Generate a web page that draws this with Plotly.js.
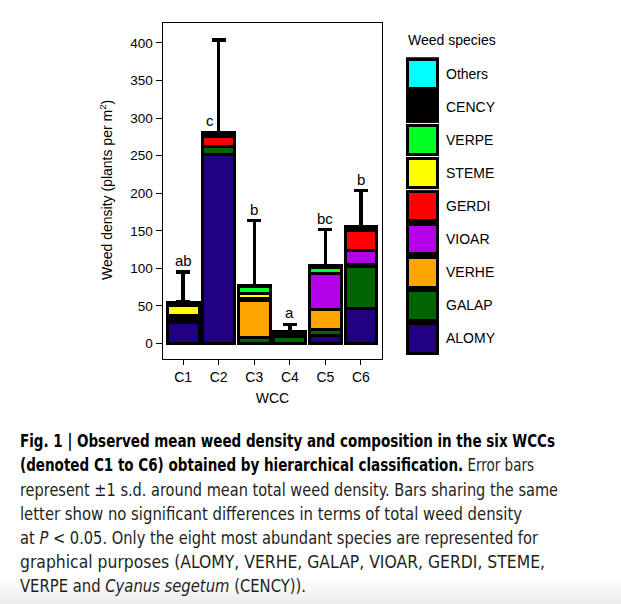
<!DOCTYPE html>
<html>
<head>
<meta charset="utf-8">
<script src="https://cdn.plot.ly/plotly-3.0.1.min.js"></script>
<style>
  html, body { margin:0; padding:0; background:#fff; }
  #wrap { position:relative; width:621px; height:604px; overflow:hidden;
          background: linear-gradient(to bottom, #ffffff 0px, #ffffff 578px, #ececec 604px); }
  #chart { position:absolute; left:0; top:0; width:621px; height:604px; }
  .cap { position:absolute; left:20px; white-space:nowrap; transform-origin:0 50%;
         font-family:"Liberation Sans Narrow","DejaVu Sans Condensed","Liberation Sans",sans-serif;
         font-size:17px; color:#231f20; line-height:20px; }
  .cap b { color:#000; }
</style>
</head>
<body>
<div id="wrap">
  <div id="chart"></div>
  <div class="cap" data-w="535" style="top:431px"><b>Fig. 1 | Observed mean weed density and composition in the six WCCs</b></div>
  <div class="cap" data-w="514" style="top:455px"><b>(denoted C1 to C6) obtained by hierarchical classification.</b> Error bars</div>
  <div class="cap" data-w="538" style="top:480px">represent ±1 s.d. around mean total weed density. Bars sharing the same</div>
  <div class="cap" data-w="502" style="top:504px">letter show no significant differences in terms of total weed density</div>
  <div class="cap" data-w="518" style="top:528px">at <i>P</i> &lt; 0.05. Only the eight most abundant species are represented for</div>
  <div class="cap" data-w="525" style="top:552px">graphical purposes (ALOMY, VERHE, GALAP, VIOAR, GERDI, STEME,</div>
  <div class="cap" data-w="286" style="top:576px">VERPE and <i>Cyanus segetum</i> (CENCY)).</div>
</div>
<script>
// ---- data ----
var categories = ['C1','C2','C3','C4','C5','C6'];
var species = ['ALOMY','GALAP','VERHE','VIOAR','GERDI','STEME','VERPE','CENCY','Others'];
var ALOMY  = [28,   251.5, 0,   0,   11,   46.5];
var GALAP  = [0,    10.5,  8,   10,  8,    56];
var VERHE  = [3,    0,     49,  1.5, 26,   2.5];
var VIOAR  = [3,    0,     1.5, 1.5, 48.5, 18.5];
var GERDI  = [3,    13.5,  1.5, 0,   0,    27];
var STEME  = [14,   0,     6.5, 1.5, 0,    1.5];
var VERPE  = [0,    0,     9.5, 0,   7.5,  1.5];
var CENCY  = [4,    5.5,   1.5, 1.5, 2.5,  2];
var Others = [0,    0,     0,   0,   0,    0];
var sdTotal = [40, 123, 86, 9.5, 48, 48];
var letters = ['ab','c','b','a','bc','b'];
var yTicks = [0,50,100,150,200,250,300,350,400];

var colors = {ALOMY:'#21007f', GALAP:'#006400', VERHE:'#ffa500', VIOAR:'#b400e8',
              GERDI:'#ff0000', STEME:'#ffff00', VERPE:'#00ff22', CENCY:'#000000', Others:'#00ffff'};
var seriesVals = {ALOMY:ALOMY, GALAP:GALAP, VERHE:VERHE, VIOAR:VIOAR, GERDI:GERDI,
                  STEME:STEME, VERPE:VERPE, CENCY:CENCY, Others:Others};

var W = 621, H = 604;
function px(x){ return x / W; }
function py(y){ return 1 - y / H; }
var FONT = '"Liberation Sans", Arial, Helvetica, sans-serif';

var traces = [];
var drawn = species.filter(function(s){ return seriesVals[s].some(function(v){ return v > 0; }); });
drawn.forEach(function(s, i){
  var t = {
    type:'bar', x:categories, y:seriesVals[s], name:s, showlegend:false,
    width:0.895, xaxis:'x', yaxis:'y',
    marker:{color:colors[s], line:{color:'#000', width:3}},
    hoverinfo:'skip'
  };
  if (i === drawn.length - 1) {
    t.error_y = {type:'data', symmetric:false, array:sdTotal,
                 arrayminus:sdTotal.map(function(){return 0;}),
                 color:'#000', thickness:3.5, width:7};
  }
  traces.push(t);
});

// legend as a small bar subplot
traces.push({
  type:'bar', orientation:'h', x:species.map(function(){return 1;}), y:species,
  xaxis:'x2', yaxis:'y2', width:0.8, showlegend:false, hoverinfo:'skip',
  marker:{color:species.map(function(s){return colors[s];}), line:{width:0}}
});

var totals = categories.map(function(c, j){
  return species.reduce(function(a, s){ return a + seriesVals[s][j]; }, 0);
});
var annotations = categories.map(function(c, j){
  var errTopBlocked = sdTotal[j] > totals[j] * 0.4 && totals[j] > 250;
  return {
    x:c, y: errTopBlocked ? totals[j] : totals[j] + sdTotal[j], xref:'x', yref:'y',
    text:letters[j], showarrow:false, yanchor:'bottom', yshift:1,
    xshift: errTopBlocked ? -9 : 0,
    font:{family:FONT, size:15, color:'#000'}
  };
});
annotations.push({
  x:px(406), y:py(40), xref:'paper', yref:'paper', xanchor:'left', yanchor:'middle',
  text:'Weed species', showarrow:false, font:{family:FONT, size:14, color:'#000'}
});
annotations.push({
  x:px(106), y:py(190), xref:'paper', yref:'paper', xanchor:'center', yanchor:'middle',
  textangle:-90, text:'Weed density (plants per m<sup>2</sup>)', showarrow:false,
  font:{family:FONT, size:14, color:'#000'}
});

// thin white separators seen between some legend keys
var sepShapes = [4.5, 5.5, 6.5].map(function(v){
  return {type:'line', xref:'x2 domain', yref:'y2', x0:0, x1:1, y0:v, y1:v,
          line:{color:'#fff', width:1}, layer:'above'};
});

var layout = {
  width:W, height:H, margin:{l:0, r:0, t:0, b:0},
  paper_bgcolor:'rgba(0,0,0,0)', plot_bgcolor:'rgba(0,0,0,0)',
  barmode:'stack', showlegend:false,
  font:{family:FONT, size:14, color:'#000'},
  xaxis:{
    domain:[px(162.5), px(382.3)], range:[-0.58, 5.6], type:'category',
    showline:true, mirror:true, linecolor:'#000', linewidth:1,
    ticks:'outside', ticklen:5, tickcolor:'#000', tickwidth:1,
    tickfont:{family:FONT, size:14, color:'#000'}, showgrid:false, zeroline:false,
    title:{text:'WCC', font:{family:FONT, size:14, color:'#000'}, standoff:9},
    automargin:false, fixedrange:true
  },
  yaxis:{
    domain:[py(359), py(23)], range:[-20.6, 426.6],
    tickvals:yTicks, ticktext:yTicks.map(String),
    showline:true, mirror:true, linecolor:'#000', linewidth:1,
    ticks:'outside', ticklen:6, tickcolor:'#000', tickwidth:1,
    tickfont:{family:FONT, size:13.5, color:'#000'}, showgrid:false, zeroline:false,
    automargin:false, fixedrange:true
  },
  xaxis2:{
    domain:[px(406), px(439)], range:[-0.111, 1.111], anchor:'y2',
    visible:false, fixedrange:true
  },
  yaxis2:{
    domain:[py(355), py(57.3)], range:[-0.5, 8.5], anchor:'x2', side:'right',
    type:'category', categoryorder:'array', categoryarray:species,
    showline:false, ticks:'', showgrid:false, zeroline:false, ticklabelstandoff:6,
    tickfont:{family:FONT, size:14, color:'#000'}, automargin:false, fixedrange:true
  },
  shapes:[{type:'rect', xref:'x2 domain', yref:'y2 domain', x0:0, x1:1, y0:0, y1:1,
           fillcolor:'#000', line:{width:0}, layer:'below'}].concat(sepShapes),
  annotations:annotations
};

Plotly.newPlot('chart', traces, layout, {displayModeBar:false, staticPlot:true}).then(function(){
  document.querySelectorAll('.cap').forEach(function(el){
    var target = +el.getAttribute('data-w');
    var w = el.getBoundingClientRect().width;
    if (w > 0) el.style.transform = 'scaleX(' + (target / w) + ')';
  });
});
</script>
</body>
</html>
